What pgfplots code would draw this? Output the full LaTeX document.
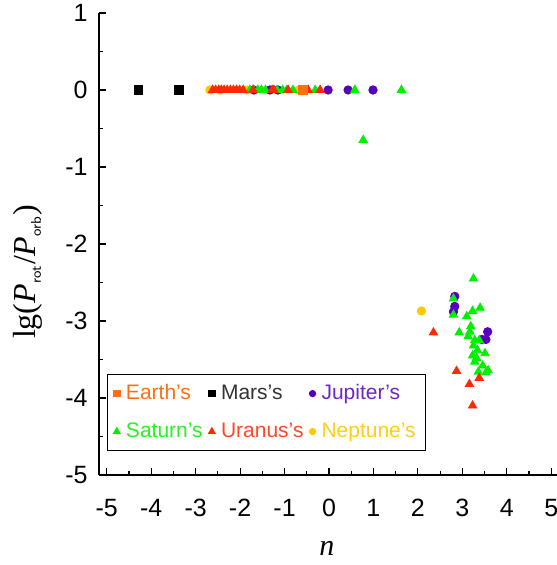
\documentclass[border=0pt]{standalone}
\usepackage{fontspec}
\setmainfont{Liberation Sans}
\newfontfamily\tms{Liberation Serif}
\usepackage{pgfplots}
\pgfplotsset{compat=1.18}
\definecolor{earthc}{RGB}{255,110,20}
\definecolor{marsc}{RGB}{0,0,0}
\definecolor{jupc}{RGB}{85,0,190}
\definecolor{satc}{RGB}{0,240,0}
\definecolor{uranc}{RGB}{255,40,0}
\definecolor{neptc}{RGB}{255,200,0}
\tikzset{
  legimg/.style={legend image code/.code={\draw[##1] plot coordinates {(2pt,0pt)};}}
}
\begin{document}
\begin{tikzpicture}
\begin{axis}[
    scale only axis,
    width=231pt, height=231pt,
    xmin=-5.175, xmax=5.22, ymin=-5, ymax=1,
    axis x line*=bottom, axis y line*=left,
    axis line style={line width=0.7pt},
    tick align=inside,
    xtick={-5,...,5}, ytick={-5,...,1},
    minor x tick num=1, minor y tick num=1,
    major tick length=3.5pt, minor tick length=1.8pt,
    every tick/.style={black, line width=0.6pt},
    /pgf/number format/assume math mode=true,
    tick label style={font=\fontsize{12.5}{14}\selectfont},
    xticklabel style={anchor=center, inner sep=0pt, yshift=-16.5pt},
    yticklabel style={anchor=east, inner sep=0pt, xshift=-5.5pt},
    xlabel={\tms\itshape n},
    xlabel style={font=\fontsize{15}{17}\selectfont, at={(axis description cs:0.4935,-0.158)}, anchor=center},
    ylabel={\tms lg(\textit{P}\textsubscript{\normalfont\sffamily\scriptsize rot}/\textit{P}\textsubscript{\normalfont\sffamily\scriptsize orb})},
    ylabel style={font=\fontsize{16}{18}\selectfont, at={(axis description cs:-0.1537,0.4394)}, anchor=center},
    legend columns=3,
    legend cell align=left,
    legend style={at={(axis description cs:0.0173,0.052)}, anchor=south west,
        draw=black, line width=0.6pt, fill=white,
        font=\fontsize{10.5}{12}\selectfont,
        row sep=6pt, column sep=1pt, inner sep=3pt},
]
% legend images in legend order
\addlegendimage{only marks, legimg, mark=square*, mark size=1.6pt, color=earthc}
\addlegendentry{\textcolor{earthc}{Earth's}}
\addlegendimage{only marks, legimg, mark=square*, mark size=1.6pt, color=marsc}
\addlegendentry{\textcolor{black!80}{Mars's}}
\addlegendimage{only marks, legimg, mark=*, mark size=1.5pt, color=jupc}
\addlegendentry{\textcolor{jupc!85}{Jupiter's}}
\addlegendimage{only marks, legimg, mark=triangle*, mark size=1.8pt, color=satc}
\addlegendentry{\textcolor{satc!85!white}{Saturn's}}
\addlegendimage{only marks, legimg, mark=triangle*, mark size=1.8pt, color=uranc}
\addlegendentry{\textcolor{uranc!85!white}{Uranus's}}
\addlegendimage{only marks, legimg, mark=*, mark size=1.5pt, color=neptc}
\addlegendentry{\textcolor{neptc!90!white}{Neptune's}}

% Neptune
\addplot[only marks, mark=*, mark size=2.1pt, color=neptc, forget plot] coordinates {
(-2.68,0) (-2.45,0) (-1.85,0) (-0.67,0) (2.08,-2.87)};
% Jupiter
\addplot[only marks, mark=*, mark size=2.1pt, color=jupc, forget plot] coordinates {
(-1.69,0) (-1.33,0) (-1.15,0) (-0.02,0) (0.43,0) (0.99,0)
(2.83,-2.68) (2.83,-2.81) (2.80,-2.88) (3.57,-3.14) (3.53,-3.24) (3.44,-3.24)};
% Saturn
\addplot[only marks, mark=triangle*, mark size=2.4pt, color=satc, forget plot] coordinates {
(-1.78,0) (-1.70,0) (-1.60,0) (-1.52,0) (-1.43,0) (-1.17,0) (-1.04,0) (-0.95,0)
(-0.81,0) (-0.31,0) (0.58,0) (1.63,0) (0.77,-0.65)
(3.25,-2.45) (2.80,-2.71) (2.80,-2.92) (3.40,-2.83) (3.23,-2.87) (3.10,-2.94)
(2.93,-3.15) (3.19,-3.07) (3.17,-3.14) (3.13,-3.20) (3.28,-3.25) (3.38,-3.25)
(3.25,-3.32) (3.34,-3.38) (3.51,-3.42) (3.23,-3.45) (3.32,-3.48) (3.28,-3.53)
(3.46,-3.58) (3.36,-3.66) (3.53,-3.67) (3.58,-3.64)};
% Uranus
\addplot[only marks, mark=triangle*, mark size=2.4pt, color=uranc, forget plot] coordinates {
(-2.62,0) (-2.55,0) (-2.48,0) (-2.42,0) (-2.36,0) (-2.29,0) (-2.22,0) (-2.15,0)
(-2.08,0) (-2.01,0) (-1.93,0) (-1.71,0) (-1.28,0) (-1.24,0) (-0.92,0) (-0.47,0) (-0.20,0)
(2.35,-3.15) (2.87,-3.65) (3.38,-3.74) (3.16,-3.82) (3.23,-4.10)};
% Earth
\addplot[only marks, mark=square*, mark size=2.2pt, color=earthc, forget plot] coordinates {
(-0.58,0)};
% Mars
\addplot[only marks, mark=square*, mark size=2.2pt, color=marsc, forget plot] coordinates {
(-4.29,0) (-3.37,0)};
\end{axis}
\pgfresetboundingbox
\useasboundingbox (-49.5pt,-45pt) rectangle (228.5pt,237.5pt);
\end{tikzpicture}
\end{document}
